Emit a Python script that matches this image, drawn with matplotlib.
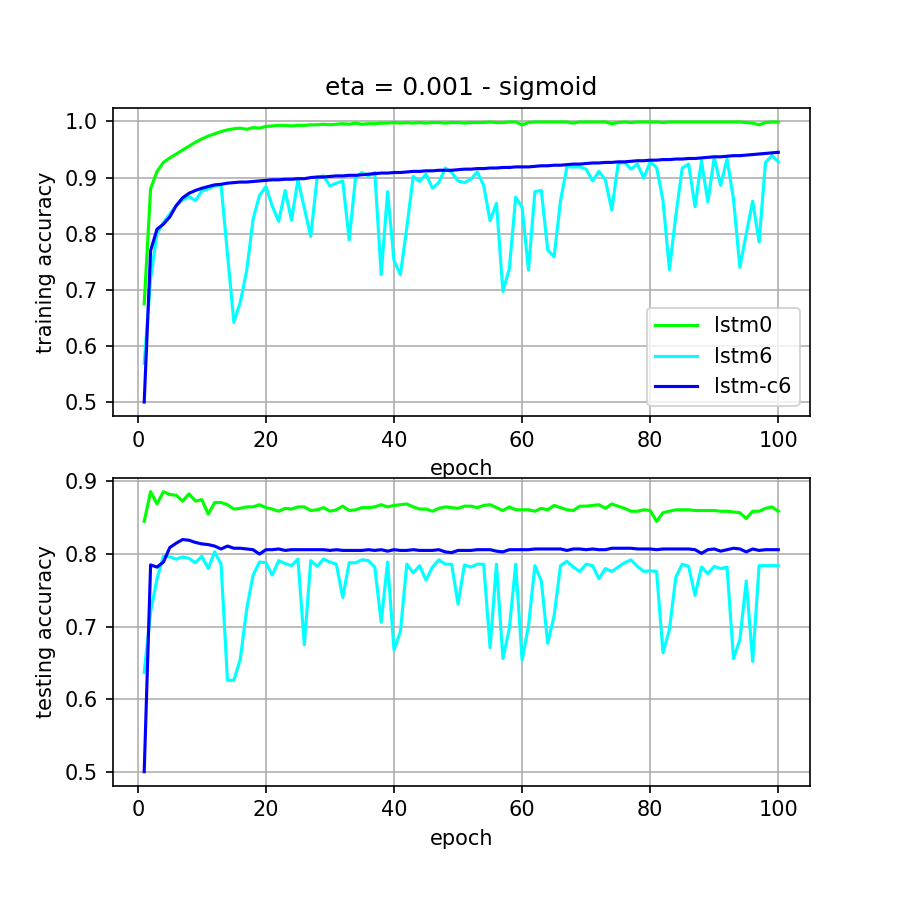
import numpy as np
import matplotlib
matplotlib.use('Agg')
import matplotlib.pyplot as plt

# ============================================================
# DATA
# ============================================================

epochs = list(range(1, 101))

train_lstm0 = [
    0.675, 0.880, 0.911, 0.927, 0.935, 0.942, 0.949, 0.956, 0.963, 0.969,
    0.974, 0.978, 0.982, 0.985, 0.987, 0.988, 0.986, 0.989, 0.988, 0.991,
    0.992, 0.993, 0.993, 0.992, 0.993, 0.993, 0.994, 0.994, 0.995, 0.994,
    0.995, 0.996, 0.995, 0.997, 0.995, 0.996, 0.996, 0.997, 0.997, 0.998,
    0.997, 0.998, 0.997, 0.998, 0.997, 0.998, 0.998, 0.997, 0.998, 0.998,
    0.997, 0.998, 0.998, 0.998, 0.999, 0.998, 0.998, 0.999, 0.999, 0.994,
    0.998, 0.999, 0.999, 0.999, 0.999, 0.999, 0.999, 0.997, 0.999, 0.999,
    0.999, 0.999, 0.999, 0.996, 0.998, 0.999, 0.998, 0.999, 0.999, 0.999,
    0.999, 0.998, 0.999, 0.999, 0.999, 0.999, 0.999, 0.999, 0.999, 0.999,
    0.999, 0.999, 0.999, 0.999, 0.998, 0.997, 0.994, 0.998, 0.999, 0.999,
]

train_lstm6 = [
    0.569, 0.720, 0.800, 0.820, 0.835, 0.850, 0.860, 0.866, 0.859, 0.876,
    0.880, 0.885, 0.887, 0.764, 0.642, 0.678, 0.734, 0.826, 0.868, 0.884,
    0.849, 0.822, 0.877, 0.824, 0.896, 0.846, 0.795, 0.900, 0.903, 0.885,
    0.890, 0.894, 0.789, 0.900, 0.909, 0.903, 0.909, 0.727, 0.875, 0.752,
    0.727, 0.811, 0.902, 0.893, 0.906, 0.881, 0.891, 0.917, 0.909, 0.894,
    0.891, 0.897, 0.910, 0.886, 0.823, 0.854, 0.697, 0.737, 0.865, 0.847,
    0.735, 0.875, 0.877, 0.771, 0.759, 0.859, 0.919, 0.919, 0.919, 0.915,
    0.894, 0.911, 0.896, 0.842, 0.925, 0.927, 0.915, 0.924, 0.899, 0.928,
    0.918, 0.859, 0.736, 0.832, 0.917, 0.924, 0.848, 0.930, 0.857, 0.936,
    0.886, 0.933, 0.862, 0.740, 0.800, 0.858, 0.785, 0.927, 0.939, 0.928,
]

train_lstmc6 = [
    0.500, 0.770, 0.808, 0.817, 0.830, 0.850, 0.864, 0.872, 0.877, 0.881,
    0.884, 0.887, 0.888, 0.890, 0.891, 0.892, 0.892, 0.893, 0.894, 0.895,
    0.896, 0.896, 0.897, 0.897, 0.898, 0.898, 0.900, 0.901, 0.901, 0.902,
    0.903, 0.903, 0.904, 0.904, 0.905, 0.906, 0.907, 0.908, 0.908, 0.909,
    0.909, 0.910, 0.911, 0.911, 0.912, 0.912, 0.913, 0.913, 0.913, 0.914,
    0.915, 0.915, 0.916, 0.916, 0.917, 0.917, 0.918, 0.918, 0.919, 0.919,
    0.919, 0.920, 0.921, 0.921, 0.922, 0.922, 0.923, 0.924, 0.924, 0.925,
    0.926, 0.926, 0.927, 0.927, 0.928, 0.928, 0.929, 0.930, 0.930, 0.931,
    0.931, 0.932, 0.932, 0.933, 0.933, 0.934, 0.934, 0.935, 0.936, 0.937,
    0.937, 0.938, 0.939, 0.939, 0.940, 0.941, 0.942, 0.943, 0.944, 0.945,
]

test_lstm0 = [
    0.845, 0.886, 0.869, 0.886, 0.882, 0.881, 0.873, 0.883, 0.873, 0.875,
    0.855, 0.871, 0.871, 0.868, 0.862, 0.863, 0.865, 0.865, 0.868, 0.864,
    0.862, 0.859, 0.863, 0.862, 0.865, 0.865, 0.860, 0.861, 0.864, 0.859,
    0.861, 0.866, 0.860, 0.861, 0.864, 0.864, 0.865, 0.868, 0.865, 0.867,
    0.868, 0.869, 0.865, 0.862, 0.862, 0.859, 0.863, 0.865, 0.864, 0.863,
    0.866, 0.866, 0.864, 0.867, 0.868, 0.864, 0.860, 0.865, 0.861, 0.861,
    0.861, 0.859, 0.863, 0.861, 0.867, 0.864, 0.861, 0.860, 0.866, 0.866,
    0.867, 0.868, 0.863, 0.869, 0.866, 0.863, 0.859, 0.859, 0.861, 0.860,
    0.845, 0.857, 0.859, 0.861, 0.861, 0.861, 0.860, 0.860, 0.860, 0.860,
    0.859, 0.859, 0.858, 0.857, 0.849, 0.859, 0.859, 0.863, 0.865, 0.859,
]

test_lstm6 = [
    0.637, 0.720, 0.766, 0.797, 0.796, 0.793, 0.796, 0.794, 0.788, 0.797,
    0.780, 0.803, 0.786, 0.626, 0.626, 0.655, 0.724, 0.771, 0.789, 0.788,
    0.771, 0.791, 0.787, 0.784, 0.793, 0.675, 0.791, 0.783, 0.793, 0.789,
    0.786, 0.740, 0.788, 0.788, 0.792, 0.791, 0.782, 0.706, 0.789, 0.668,
    0.693, 0.786, 0.774, 0.784, 0.764, 0.782, 0.792, 0.786, 0.786, 0.731,
    0.785, 0.782, 0.786, 0.786, 0.671, 0.786, 0.656, 0.697, 0.786, 0.654,
    0.701, 0.784, 0.763, 0.677, 0.715, 0.784, 0.790, 0.782, 0.776, 0.786,
    0.784, 0.766, 0.780, 0.776, 0.782, 0.788, 0.792, 0.783, 0.776, 0.777,
    0.776, 0.664, 0.696, 0.768, 0.786, 0.783, 0.743, 0.782, 0.773, 0.783,
    0.780, 0.782, 0.656, 0.682, 0.763, 0.652, 0.784, 0.784, 0.784, 0.784,
]

test_lstmc6 = [
    0.500, 0.785, 0.782, 0.789, 0.809, 0.815, 0.820, 0.819, 0.816, 0.814,
    0.813, 0.811, 0.807, 0.811, 0.808, 0.808, 0.807, 0.806, 0.800, 0.806,
    0.806, 0.807, 0.805, 0.806, 0.806, 0.806, 0.806, 0.806, 0.806, 0.805,
    0.806, 0.805, 0.805, 0.805, 0.805, 0.806, 0.805, 0.806, 0.804, 0.806,
    0.805, 0.805, 0.806, 0.805, 0.805, 0.805, 0.806, 0.803, 0.802, 0.805,
    0.805, 0.805, 0.806, 0.806, 0.806, 0.804, 0.803, 0.806, 0.806, 0.806,
    0.806, 0.807, 0.807, 0.807, 0.807, 0.807, 0.805, 0.807, 0.807, 0.806,
    0.807, 0.806, 0.806, 0.808, 0.808, 0.808, 0.808, 0.807, 0.807, 0.807,
    0.806, 0.807, 0.807, 0.807, 0.807, 0.807, 0.806, 0.801, 0.806, 0.807,
    0.804, 0.806, 0.808, 0.807, 0.803, 0.807, 0.805, 0.806, 0.806, 0.806,
]

labels = ['lstm0', 'lstm6', 'lstm-c6']
colors = ['lime', 'cyan', 'blue']

# ============================================================
# PLOT
# ============================================================

fig, (ax1, ax2) = plt.subplots(2, 1, figsize=(6, 6), dpi=150)
fig.subplots_adjust(left=0.125, right=0.9, top=0.88, bottom=0.127, hspace=0.2)

for series, lab, col in zip([train_lstm0, train_lstm6, train_lstmc6], labels, colors):
    ax1.plot(epochs, series, color=col, label=lab)
ax1.set_title('eta = 0.001 - sigmoid')
ax1.set_xlabel('epoch')
ax1.set_ylabel('training accuracy')
ax1.legend(loc='lower right')
ax1.grid(True)

for series, lab, col in zip([test_lstm0, test_lstm6, test_lstmc6], labels, colors):
    ax2.plot(epochs, series, color=col, label=lab)
ax2.set_xlabel('epoch')
ax2.set_ylabel('testing accuracy')
ax2.grid(True)

plt.savefig('out.png', dpi=150)
plt.close()
